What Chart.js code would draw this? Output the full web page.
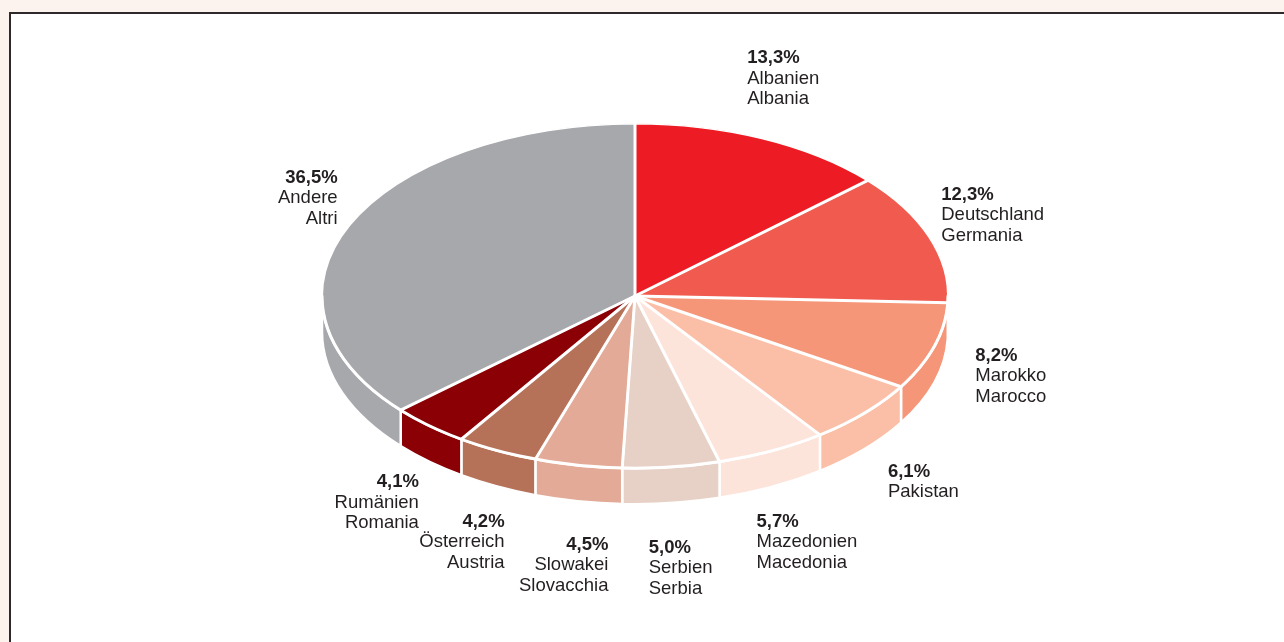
<!DOCTYPE html>
<html>
<head>
<meta charset="utf-8">
<script src="https://cdn.jsdelivr.net/npm/chart.js@4/dist/chart.umd.min.js"></script>
<style>
  html, body { margin: 0; padding: 0; background: #fdf3ee; overflow: hidden; }
  #frame { position: absolute; left: 9px; top: 12px; width: 1290px; height: 650px;
           background: #fff; border-left: 2px solid #2e2a2b; border-top: 2px solid #2e2a2b; }
  #pie { position: absolute; left: 0; top: 0; }
</style>
</head>
<body>
<div id="frame"></div>
<canvas id="pie" width="1284" height="642"></canvas>
<script>
// Herkunftsländer / paesi di provenienza
var namesDe = ["Albanien", "Deutschland", "Marokko", "Pakistan", "Mazedonien", "Serbien", "Slowakei", "Österreich", "Rumänien", "Andere"];
var namesIt = ["Albania", "Germania", "Marocco", "Pakistan", "Macedonia", "Serbia", "Slovacchia", "Austria", "Romania", "Altri"];
var shares = [13.3, 12.3, 8.2, 6.1, 5.7, 5.0, 4.5, 4.2, 4.1, 36.5];
var sliceColors = ["#ed1c24", "#f15a4e", "#f59679", "#fbbea6", "#fde4da", "#e7d1c7", "#e3ab97", "#b67159", "#8a0005", "#a7a8ac"];

var TILT = 0.55;   // vertical squash of the top face
var DEPTH = 36;    // height of the side wall
var FONT = "18.5px 'Liberation Sans', Arial, sans-serif";

function _pct(v) { return v.toFixed(1).replace(".", ",") + "%"; }

var pie3d = {
  id: "pie3d",
  beforeDatasetsDraw: function(chart) {
    var ctx = chart.ctx;
    var arcs = chart.getDatasetMeta(0).data;
    if (!arcs.length) return;
    var cx = arcs[0].x, cy = arcs[0].y, R = arcs[0].outerRadius;
    // side walls (front half only)
    arcs.forEach(function(arc, i) {
      var lo = Math.max(arc.startAngle, 0), hi = Math.min(arc.endAngle, Math.PI);
      if (hi <= lo) return;
      ctx.beginPath();
      ctx.ellipse(cx, cy, R, R * TILT, 0, lo, hi, false);
      ctx.ellipse(cx, cy + DEPTH, R, R * TILT, 0, hi, lo, true);
      ctx.closePath();
      ctx.fillStyle = sliceColors[i];
      ctx.fill();
      ctx.strokeStyle = "#fff";
      ctx.lineWidth = 2.5;
      ctx.stroke();
    });
    // squash the library's round pie into the top face
    ctx.save();
    ctx.translate(cx, cy);
    ctx.scale(1, TILT);
    ctx.translate(-cx, -cy);
  },
  afterDatasetsDraw: function(chart) {
    var ctx = chart.ctx;
    ctx.restore();
    var arcs = chart.getDatasetMeta(0).data;
    if (!arcs.length) return;
    var cx = arcs[0].x, cy = arcs[0].y, R = arcs[0].outerRadius;

    // even white separators on the top face
    ctx.save();
    ctx.strokeStyle = "#fff";
    ctx.lineWidth = 3;
    ctx.lineCap = "round";
    arcs.forEach(function(arc) {
      ctx.beginPath();
      ctx.moveTo(cx, cy);
      ctx.lineTo(cx + R * Math.cos(arc.startAngle), cy + R * TILT * Math.sin(arc.startAngle));
      ctx.stroke();
    });
    ctx.beginPath();
    ctx.ellipse(cx, cy, R, R * TILT, 0, 0, Math.PI);
    ctx.stroke();
    ctx.restore();

    // labels
    var lh = 20.5, blockH = 3 * lh;
    ctx.save();
    ctx.fillStyle = "#231f20";
    ctx.textBaseline = "middle";
    arcs.forEach(function(arc, i) {
      var mid = (arc.startAngle + arc.endAngle) / 2;
      var ux = Math.cos(mid), uy = Math.sin(mid);
      var lines = [{ t: _pct(shares[i]), b: true }, { t: namesDe[i], b: false }];
      if (namesIt[i] !== namesDe[i]) lines.push({ t: namesIt[i], b: false });
      var w = 0;
      lines.forEach(function(l) {
        ctx.font = (l.b ? "bold " : "") + FONT;
        w = Math.max(w, ctx.measureText(l.t).width);
      });
      var h = lines.length * lh;
      var ex = cx + R * ux;
      var ey = cy + R * TILT * uy + (uy > 0 ? DEPTH * uy : 0);
      var mx = ex + (uy > 0 ? 80 : w / 2 + 16) * ux;
      var my = ey + (blockH / 2 + 35) * uy;
      var align = ux > 0.05 ? "left" : (ux < -0.05 ? "right" : "center");
      var tx = align === "left" ? mx - w / 2 : (align === "right" ? mx + w / 2 : mx);
      ctx.textAlign = align;
      lines.forEach(function(l, k) {
        ctx.font = (l.b ? "bold " : "") + FONT;
        ctx.fillText(l.t, tx, my - h / 2 + lh * (k + 0.5));
      });
    });
    ctx.restore();
  }
};

new Chart(document.getElementById("pie").getContext("2d"), {
  type: "pie",
  data: {
    labels: namesDe,
    datasets: [{
      data: shares,
      backgroundColor: sliceColors,
      borderColor: "#fff",
      borderWidth: 2,
      radius: 313,
      clip: false
    }]
  },
  options: {
    responsive: false,
    animation: false,
    layout: { padding: { left: 0, right: 14, top: 0, bottom: 50 } },
    plugins: { legend: { display: false }, tooltip: { enabled: false } }
  },
  plugins: [pie3d]
});
</script>
</body>
</html>
